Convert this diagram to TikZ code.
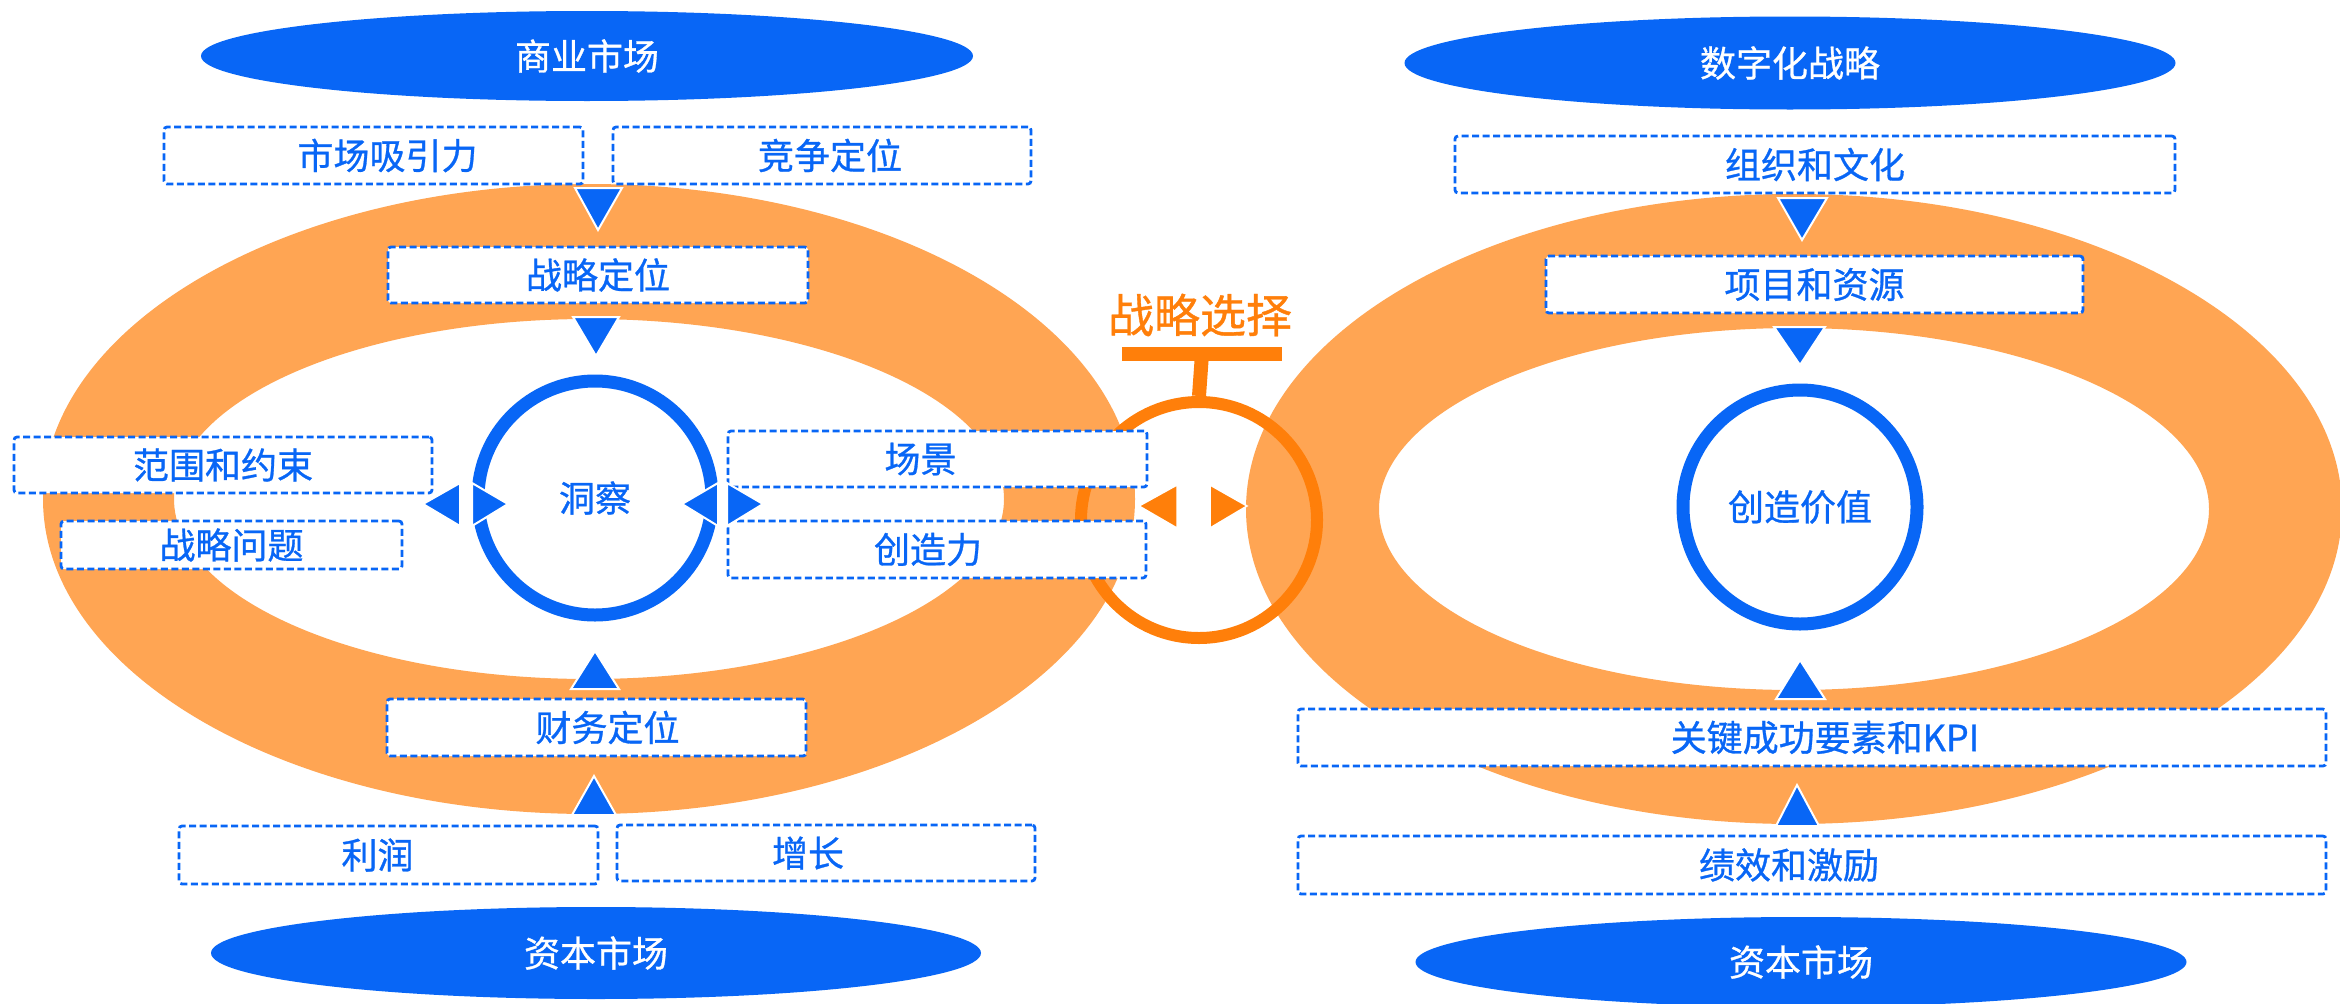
\documentclass[tikz,border=0pt]{standalone}
\usepackage{fontspec}
\setmainfont{Noto Sans CJK SC}[FakeBold=0.8]
\usetikzlibrary{shapes.geometric}
\definecolor{cblue}{HTML}{0866F6}
\definecolor{ringor}{HTML}{FFA553}
\definecolor{dorange}{HTML}{FF7F0A}
\begin{document}
\begin{tikzpicture}[x=1pt,y=-1pt,
  txt/.style={font=\fontsize{36pt}{40pt}\selectfont},
  box/.style={txt, draw=cblue, fill=white, line width=2.8pt, dash pattern=on 7pt off 3.5pt,
    rounded corners=3pt, inner sep=0pt, text=cblue},
  tr/.style={execute at begin node={\hspace*{#1}}},
  tl/.style={execute at end node={\hspace*{#1}}},
  ell/.style={txt, ellipse, fill=cblue, inner sep=0pt, text=white},
  ring/.style={fill=ringor, even odd rule},
  tri/.style={fill=cblue, draw=white, line width=2pt},
  otri/.style={fill=dorange, draw=white, line width=1.5pt},
  bigcirc/.style={txt, circle, draw=cblue, line width=13pt, text=cblue, inner sep=0pt}
]
\useasboundingbox (0,0) rectangle (2340,1004);
\fill[white] (0,0) rectangle (2340,1004);

% orange rings
\fill[ring] (589,499) ellipse [x radius=546, y radius=315] (589,499) ellipse [x radius=415, y radius=180];
\fill[ring] (1794,509) ellipse [x radius=548, y radius=315] (1794,509) ellipse [x radius=415, y radius=181];

% strategic choice symbol
\node[circle, draw=dorange, line width=12pt, minimum size=236pt, inner sep=0pt] (sel) at (1199,520) {};
\node[fill=dorange, minimum width=160pt, minimum height=14pt, inner sep=0pt] (bar) at (1202,354) {};
\draw[dorange, line width=14pt] (bar.center) -- (sel.north);
\node[font=\fontsize{46pt}{50pt}\selectfont, text=dorange] (xz) at (1200,315) {战略选择};

% central circles
\node[bigcirc, minimum size=234pt] (dc) at (595,498) {洞察};
\node[bigcirc, minimum size=234pt] (cz) at (1800,507) {创造价值};

% left boxes
\node[box, tr=28pt, minimum width=419pt, minimum height=57pt] (sc) at (373.5,155.5) {市场吸引力};
\node[box, tr=16pt, minimum width=418pt, minimum height=57pt] (jz) at (822,155.5) {竞争定位};
\node[box, minimum width=420pt, minimum height=56pt] (zl) at (598,275) {战略定位};
\node[box, minimum width=418pt, minimum height=56pt] (fw) at (223,465) {范围和约束};
\node[box, minimum width=341pt, minimum height=48pt] (wt) at (231.5,545) {战略问题};
\node[box, tl=34pt, minimum width=419pt, minimum height=56pt] (cj) at (937.5,459) {场景};
\node[box, tl=18pt, minimum width=418pt, minimum height=57pt] (czl) at (937,549.5) {创造力};
\node[box, tr=22pt, minimum width=419pt, minimum height=57pt] (cw) at (596.5,727.5) {财务定位};
\node[box, tl=22pt, minimum width=419pt, minimum height=58pt] (lr) at (388.5,855) {利润};
\node[box, tl=36pt, minimum width=418pt, minimum height=56pt] (zz) at (826,853) {增长};

% right boxes
\node[box, minimum width=720pt, minimum height=57pt] (zz2) at (1815,164.5) {组织和文化};
\node[box, minimum width=537pt, minimum height=57pt] (xm) at (1814.5,284.5) {项目和资源};
\node[box, tr=26pt, minimum width=1028pt, minimum height=57pt] (kpi) at (1812,737.5) {关键成功要素和KPI};
\node[box, tl=46pt, minimum width=1028pt, minimum height=58pt] (jx) at (1812,865) {绩效和激励};

% triangles (arrowheads)
\filldraw[tri] (575,188) -- (622,188) -- (598,230) -- cycle;
\filldraw[tri] (573,317) -- (619,317) -- (596,356) -- cycle;
\filldraw[tri] (571,689) -- (619,689) -- (595,651) -- cycle;
\filldraw[tri] (572,815) -- (616,815) -- (594,776) -- cycle;
\filldraw[tri] (1778,198) -- (1827,198) -- (1802,240) -- cycle;
\filldraw[tri] (1774,327) -- (1825,327) -- (1800,365) -- cycle;
\filldraw[tri] (1776,699) -- (1825,699) -- (1800,660) -- cycle;
\filldraw[tri] (1776,826) -- (1819,826) -- (1797,785) -- cycle;
\filldraw[tri] (423,504) -- (460,483) -- (460,526) -- cycle;
\filldraw[tri] (472,483) -- (508,504) -- (472,526) -- cycle;
\filldraw[tri] (682,504) -- (718,483) -- (718,526) -- cycle;
\filldraw[tri] (727,483) -- (763,504) -- (727,526) -- cycle;
\filldraw[otri] (1139,506) -- (1177,485) -- (1177,528) -- cycle;
\filldraw[otri] (1210,485) -- (1247,506) -- (1210,528) -- cycle;

% market ellipses
\node[ell, minimum width=772pt, minimum height=90pt] (sy) at (587,56) {商业市场};
\node[ell, minimum width=770pt, minimum height=92pt] (zb1) at (596,953) {资本市场};
\node[ell, minimum width=771pt, minimum height=93pt] (sz) at (1790,63) {数字化战略};
\node[ell, minimum width=771pt, minimum height=90pt] (zb2) at (1801,962) {资本市场};
\end{tikzpicture}
\end{document}
